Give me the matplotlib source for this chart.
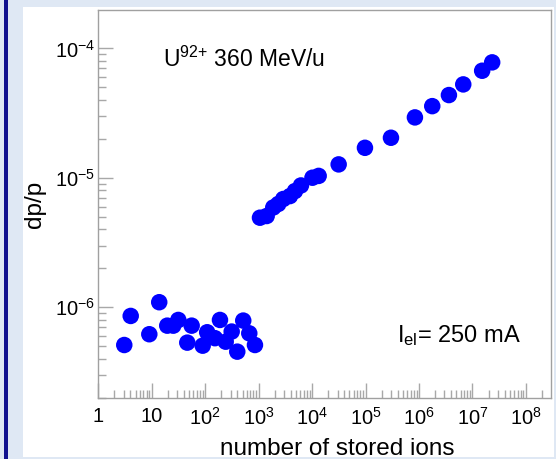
import math
import matplotlib
matplotlib.use("Agg")
import matplotlib.pyplot as plt
from matplotlib.patches import Rectangle
from matplotlib.ticker import FixedLocator, LogLocator, FuncFormatter, NullFormatter

# Arial-like font everywhere, also inside the math text
plt.rcParams['font.family'] = ['Liberation Sans', 'DejaVu Sans']
plt.rcParams['mathtext.fontset'] = 'custom'
plt.rcParams['mathtext.rm'] = 'Liberation Sans'
plt.rcParams['mathtext.it'] = 'Liberation Sans:italic'
plt.rcParams['mathtext.bf'] = 'Liberation Sans:bold'

# number of stored ions and momentum spread dp/p
n_ions = [3.06, 4.04, 9.0, 13.8, 19.5, 25.3, 31.4, 55.8, 46.2, 89.7,
          109, 152, 189, 242, 313, 398, 515, 668, 853,
          1059, 1413, 1877, 2328, 2888, 3855, 4779, 6190, 10160, 13270,
          31400, 97500, 2.99e5, 8.39e5, 1.77e6, 3.63e6, 6.73e6, 1.52e7, 2.34e7]
dp_p = [5.11e-7, 8.57e-7, 6.19e-7, 1.094e-6, 7.21e-7, 7.21e-7, 7.98e-7, 7.21e-7, 5.33e-7, 5.05e-7,
        6.41e-7, 5.77e-7, 7.98e-7, 5.42e-7, 6.49e-7, 4.54e-7, 7.89e-7, 6.29e-7, 5.11e-7,
        4.92e-6, 5.07e-6, 5.90e-6, 6.28e-6, 6.86e-6, 7.23e-6, 7.90e-6, 8.73e-6, 1.002e-5, 1.035e-5,
        1.27e-5, 1.706e-5, 2.04e-5, 2.93e-5, 3.58e-5, 4.36e-5, 5.27e-5, 6.72e-5, 7.80e-5]

x_major = [1, 10, 1e2, 1e3, 1e4, 1e5, 1e6, 1e7, 1e8]
y_major = [1e-6, 1e-5, 1e-4]

fig = plt.figure(figsize=(5.56, 4.59), dpi=100)
fig.patch.set_facecolor('#dfe8f4')

# white slide panel and the dark blue bar on the left
fig.add_artist(Rectangle((23 / 556, 1 - 457 / 459), (554 - 23) / 556, (457 - 7) / 459,
                         transform=fig.transFigure, facecolor='white', edgecolor='none', zorder=0))
fig.add_artist(Rectangle((4 / 556, 0), 4 / 556, 1, transform=fig.transFigure,
                         facecolor='#11118f', edgecolor='none', zorder=0))

ax = fig.add_axes([98.3 / 556, 1 - 398.3 / 459, (551 - 98.3) / 556, (398.3 - 10) / 459])
ax.set_facecolor('white')

ax.scatter(n_ions, dp_p, s=141, color='#0000ff', edgecolors='none', zorder=3)

ax.set_xscale('log')
ax.set_yscale('log')
ax.set_xlim(1, 2.95e8)
ax.set_ylim(1.98e-7, 1.98e-4)


def pow_label(v, pos):
    if v == 1:
        return '1'
    if v == 10:
        return '10'
    e = int(round(math.log10(v)))
    return r'$10^{%d}$' % e


ax.xaxis.set_major_locator(FixedLocator(x_major))
ax.yaxis.set_major_locator(FixedLocator(y_major))
ax.xaxis.set_minor_locator(LogLocator(base=10, subs=range(2, 10), numticks=20))
ax.yaxis.set_minor_locator(LogLocator(base=10, subs=range(2, 10), numticks=20))
ax.xaxis.set_major_formatter(FuncFormatter(pow_label))
ax.yaxis.set_major_formatter(FuncFormatter(pow_label))
ax.xaxis.set_minor_formatter(NullFormatter())
ax.yaxis.set_minor_formatter(NullFormatter())

ax.tick_params(which='both', direction='in', color='#a8a8a8', width=1, labelsize=14.5)
ax.tick_params(which='major', length=11)
ax.tick_params(which='minor', length=5.5)
ax.tick_params(axis='x', pad=6)
ax.tick_params(axis='y', pad=2)

for s in ax.spines.values():
    s.set_color('#a0a0a0')
    s.set_linewidth(1)

ax.set_xlabel('number of stored ions', fontsize=17.5, va='baseline')
ax.xaxis.set_label_coords(0.527, -0.146)
ax.set_ylabel('dp/p', fontsize=17.5)
ax.yaxis.set_label_coords(-0.115, 0.5)

ax.text(0.143, 0.853, r'U$^{92{+}}$ 360 MeV/u', transform=ax.transAxes,
        fontsize=16.5, va='baseline', ha='left')
ax.text(0.659, 0.146, r'I$_{\mathrm{el}}$= 250 mA', transform=ax.transAxes,
        fontsize=17, va='baseline', ha='left')

fig.savefig('out.png', dpi=100, facecolor=fig.get_facecolor())
